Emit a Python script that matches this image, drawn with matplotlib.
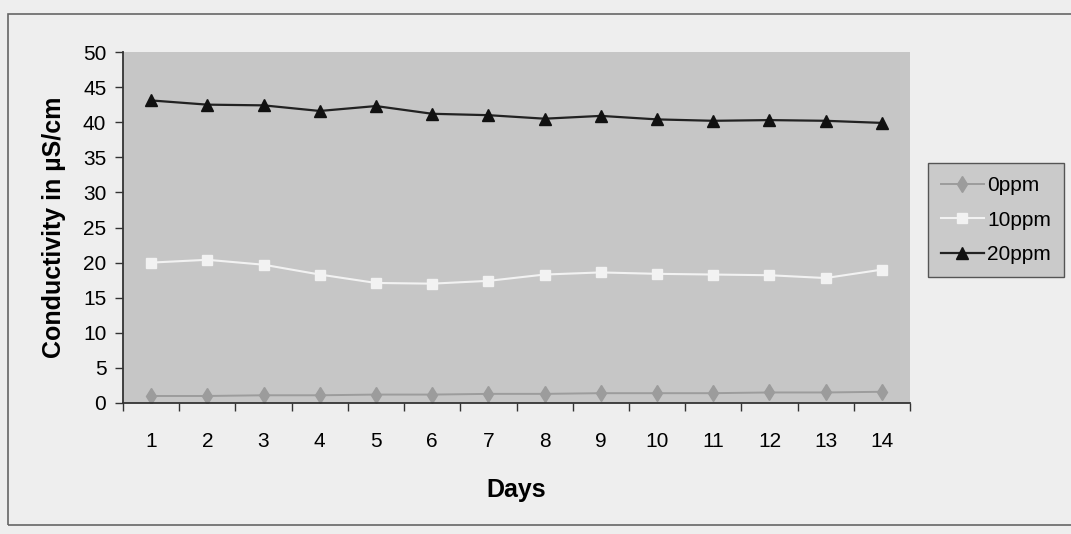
import numpy as np
import matplotlib
matplotlib.use("Agg")
import matplotlib.pyplot as plt
from matplotlib.patches import Rectangle

plt.rcParams['font.family'] = ['Liberation Sans', 'DejaVu Sans']

days = list(range(1, 15))
ppm0 = [1.0, 1.0, 1.1, 1.1, 1.2, 1.2, 1.3, 1.3, 1.4, 1.4, 1.4, 1.5, 1.5, 1.6]
ppm10 = [20.0, 20.4, 19.7, 18.3, 17.1, 17.0, 17.4, 18.3, 18.6, 18.4, 18.3, 18.2, 17.8, 19.0]
ppm20 = [43.1, 42.5, 42.4, 41.6, 42.3, 41.2, 41.0, 40.5, 40.9, 40.4, 40.2, 40.3, 40.2, 39.9]
series_names = ['0ppm', '10ppm', '20ppm']

fig = plt.figure(figsize=(10.71, 5.34), dpi=100)
fig.patch.set_facecolor('#eeeeee')

# chart border
fig.patches.append(Rectangle((8 / 1071, (534 - 525) / 534), 1.1, (525 - 14) / 534,
                             transform=fig.transFigure, fill=False,
                             edgecolor='#666666', linewidth=1.2))

ax = fig.add_axes([123 / 1071, (534 - 403) / 534, 787 / 1071, 351 / 534])
ax.set_facecolor('#c6c6c6')

ax.plot(days, ppm0, color='#9c9c9c', lw=1.4, marker='d', ms=8,
        mfc='#9c9c9c', mec='#9c9c9c', label=series_names[0])
ax.plot(days, ppm10, color='#f2f2f2', lw=1.5, marker='s', ms=7,
        mfc='#f2f2f2', mec='#f2f2f2', label=series_names[1])
ax.plot(days, ppm20, color='#222222', lw=1.6, marker='^', ms=8.5,
        mfc='#111111', mec='#111111', label=series_names[2])

ax.set_xlim(0.5, 14.5)
ax.set_ylim(0, 50)
ax.set_yticks(np.arange(0, 51, 5))

# category axis: tick marks between days, labels under each day
ax.set_xticks(np.arange(0.5, 15, 1))
ax.set_xticklabels([])
ax.set_xticks(days, minor=True)
ax.set_xticklabels([str(d) for d in days], minor=True)
ax.tick_params(axis='x', which='major', direction='out', length=6, width=1, color='#333333')
ax.tick_params(axis='x', which='minor', length=0, pad=21, labelsize=15)
ax.tick_params(axis='y', direction='out', length=6, width=1, color='#333333',
               pad=6, labelsize=15)

for side in ['top', 'right']:
    ax.spines[side].set_visible(False)
for side in ['left', 'bottom']:
    ax.spines[side].set_color('#333333')
    ax.spines[side].set_linewidth(1.3)

ax.set_xlabel('Days', fontsize=18, fontweight='bold', labelpad=19)
ax.set_ylabel('Conductivity in µS/cm', fontsize=18, fontweight='bold', labelpad=12)

leg = fig.legend(loc='center left', bbox_to_anchor=(928 / 1071, (534 - 220) / 534),
                 borderaxespad=0, fontsize=15, handlelength=2.1, handletextpad=0.15,
                 labelspacing=0.75, borderpad=0.6, fancybox=False, framealpha=1)
leg.get_frame().set_facecolor('#cacaca')
leg.get_frame().set_edgecolor('#555555')
leg.get_frame().set_linewidth(1.0)

fig.savefig('out.png', dpi=100, facecolor=fig.get_facecolor())
